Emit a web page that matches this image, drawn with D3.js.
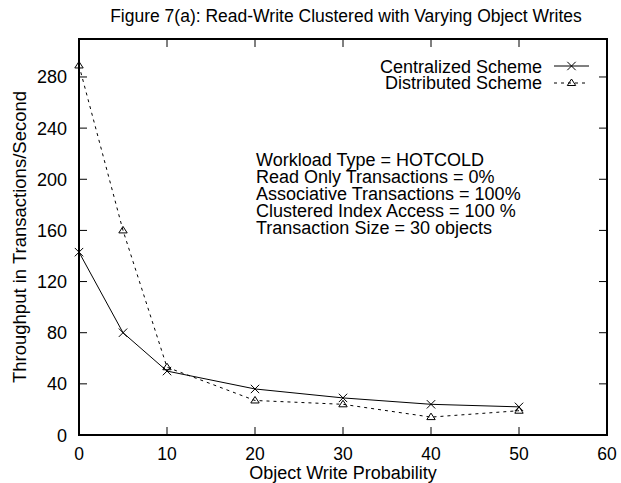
<!DOCTYPE html>
<html>
<head>
<meta charset="utf-8">
<script src="https://cdn.jsdelivr.net/npm/d3@7"></script>
<style>
  body { margin: 0; background: #fff; }
  svg { display: block; font-family: "Liberation Sans", Arial, sans-serif; }
</style>
</head>
<body>
<svg id="chart" width="621" height="483"></svg>
<script>
// Throughput vs. object write probability for two schemes
const writeProb = [0, 5, 10, 20, 30, 40, 50];
const centralized = [143, 80, 50, 36, 29, 24, 22];
const distributed = [289, 160, 53, 27, 24, 14, 19];
const xTicks = [0, 10, 20, 30, 40, 50, 60];
const yTicks = [0, 40, 80, 120, 160, 200, 240, 280];
const seriesNames = ["Centralized Scheme", "Distributed Scheme"];
const notes = [
  "Workload Type = HOTCOLD",
  "Read Only Transactions = 0%",
  "Associative Transactions = 100%",
  "Clustered Index Access = 100 %",
  "Transaction Size = 30 objects"
];

const svg = d3.select("#chart");
const L = 79, R = 607, T = 39, B = 435;
const x = d3.scaleLinear().domain([0, 60]).range([L, R]);
const y = d3.scaleLinear().domain([0, 309.7]).range([B, T]);
const FS = 18;

// title
svg.append("text").attr("x", (L + R) / 2 + 3).attr("y", 22).attr("text-anchor", "middle")
  .attr("font-size", 17.5).text("Figure 7(a): Read-Write Clustered with Varying Object Writes");

// ticks (inward, mirrored on all four sides)
const tl = 8;
const g = svg.append("g").attr("stroke", "#000").attr("stroke-width", 1);
xTicks.forEach(t => {
  g.append("line").attr("x1", x(t)).attr("x2", x(t)).attr("y1", B).attr("y2", B - tl);
  g.append("line").attr("x1", x(t)).attr("x2", x(t)).attr("y1", T).attr("y2", T + tl);
});
yTicks.forEach(t => {
  g.append("line").attr("x1", L).attr("x2", L + tl).attr("y1", y(t)).attr("y2", y(t));
  g.append("line").attr("x1", R).attr("x2", R - tl).attr("y1", y(t)).attr("y2", y(t));
});

// frame
svg.append("rect").attr("x", L).attr("y", T).attr("width", R - L).attr("height", B - T)
  .attr("fill", "none").attr("stroke", "#000").attr("stroke-width", 2);

// tick labels
xTicks.forEach(t => {
  svg.append("text").attr("x", x(t)).attr("y", 459.5).attr("text-anchor", "middle")
    .attr("font-size", 17.5).text(t);
});
yTicks.forEach(t => {
  svg.append("text").attr("x", 67).attr("y", y(t) + 6.5).attr("text-anchor", "end")
    .attr("font-size", FS).text(t);
});

// axis titles
svg.append("text").attr("x", (L + R) / 2).attr("y", 479).attr("text-anchor", "middle")
  .attr("font-size", 18).text("Object Write Probability");
svg.append("text").attr("transform", `translate(25.5,${(T + B) / 2}) rotate(-90)`)
  .attr("text-anchor", "middle").attr("font-size", 18.5)
  .text("Throughput in Transactions/Second");

// series
const line = d3.line().x(d => x(d[0])).y(d => y(d[1]));
const cData = writeProb.map((w, i) => [w, centralized[i]]);
const dData = writeProb.map((w, i) => [w, distributed[i]]);

svg.append("path").datum(cData).attr("d", line).attr("fill", "none")
  .attr("stroke", "#000").attr("stroke-width", 1);
svg.append("path").datum(dData).attr("d", line).attr("fill", "none")
  .attr("stroke", "#000").attr("stroke-width", 1).attr("stroke-dasharray", "3,4");

function cross(sel, cx, cy) {
  const s = 4.2;
  sel.append("path").attr("d", `M${cx - s},${cy - s}L${cx + s},${cy + s}M${cx - s},${cy + s}L${cx + s},${cy - s}`)
    .attr("stroke", "#000").attr("stroke-width", 1).attr("fill", "none");
}
function tri(sel, cx, cy) {
  sel.append("path").attr("d", `M${cx},${cy - 4}L${cx + 4.2},${cy + 2.5}L${cx - 4.2},${cy + 2.5}Z`)
    .attr("stroke", "#000").attr("stroke-width", 1).attr("fill", "none");
}
cData.forEach(d => cross(svg, x(d[0]), y(d[1])));
dData.forEach(d => tri(svg, x(d[0]), y(d[1])));

// legend
const lx1 = 554, lx2 = 589;
svg.append("text").attr("x", 542).attr("y", 72.5).attr("text-anchor", "end")
  .attr("font-size", FS).text(seriesNames[0]);
svg.append("line").attr("x1", lx1).attr("x2", lx2).attr("y1", 66).attr("y2", 66)
  .attr("stroke", "#000").attr("stroke-width", 1);
cross(svg, (lx1 + lx2) / 2, 66);
svg.append("text").attr("x", 542).attr("y", 89.3).attr("text-anchor", "end")
  .attr("font-size", FS).text(seriesNames[1]);
svg.append("line").attr("x1", lx1).attr("x2", lx2).attr("y1", 83).attr("y2", 83)
  .attr("stroke", "#000").attr("stroke-width", 1).attr("stroke-dasharray", "3,4");
tri(svg, (lx1 + lx2) / 2, 83);

// workload notes
notes.forEach((n, i) => {
  svg.append("text").attr("x", 256).attr("y", 165.7 + i * 17.1)
    .attr("font-size", FS).text(n);
});
</script>
</body>
</html>
